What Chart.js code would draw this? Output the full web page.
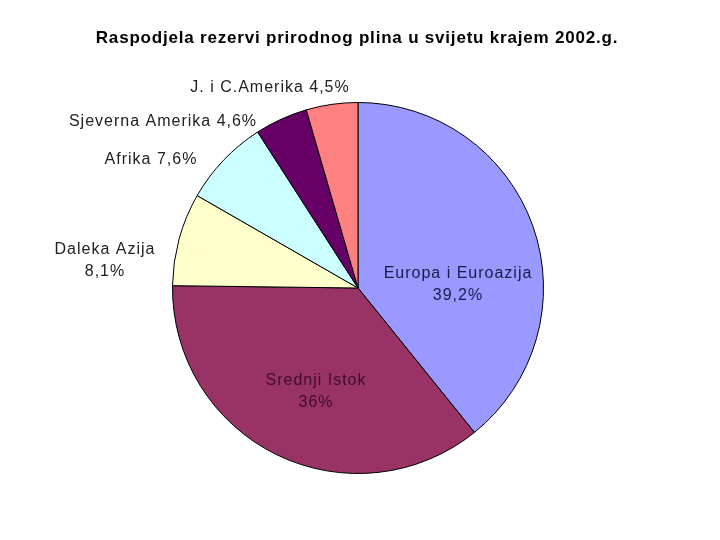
<!DOCTYPE html>
<html>
<head>
<meta charset="utf-8">
<script src="https://cdn.jsdelivr.net/npm/chart.js@4/dist/chart.umd.min.js"></script>
<style>
    body { margin: 0; background: #fff; }
    #wrap { width: 720px; height: 540px; }
</style>
</head>
<body>
<div id="wrap"><canvas id="pieChart" width="720" height="540"></canvas></div>
<script>
const chartTitle = 'Raspodjela rezervi prirodnog plina u svijetu krajem 2002.g.';
const regions = ['Europa i Euroazija', 'Srednji Istok', 'Daleka Azija', 'Afrika', 'Sjeverna Amerika', 'J. i C.Amerika'];
const shares = [39.2, 36, 8.1, 7.6, 4.6, 4.5];
const shareLabels = ['39,2%', '36%', '8,1%', '7,6%', '4,6%', '4,5%'];
const colors = ['#9999ff', '#993366', '#ffffcc', '#ccffff', '#660066', '#ff8080'];

// label layout: offset from pie centre, and whether the % goes on a second line
const labelPos = [
    { dx: 100, dy: -3, twoLines: true, color: '#1a1a4d' },
    { dx: -42, dy: 104, twoLines: true, color: '#3d0f26' },
    { dx: -253, dy: -27, twoLines: true, color: '#222' },
    { dx: -207, dy: -128, twoLines: false, color: '#222' },
    { dx: -195, dy: -166, twoLines: false, color: '#222' },
    { dx: -88, dy: -200, twoLines: false, color: '#222' }
];

const sliceLabels = {
    id: 'sliceLabels',
    afterDatasetsDraw(chart) {
        const ctx = chart.ctx;
        const arcs = chart.getDatasetMeta(0).data;
        ctx.save();
        ctx.textAlign = 'center';
        ctx.textBaseline = 'middle';

        // title
        ctx.font = 'bold 17px "Liberation Sans", Arial, sans-serif';
        ctx.letterSpacing = '0.8px';
        ctx.fillStyle = '#000';
        ctx.fillText(chartTitle, 357, 38);

        ctx.font = '16px "Liberation Sans", Arial, sans-serif';
        ctx.letterSpacing = '1px';
        arcs.forEach((arc, i) => {
            const p = labelPos[i];
            const x = arc.x + p.dx;
            const y = arc.y + p.dy;
            ctx.fillStyle = p.color;
            if (p.twoLines) {
                ctx.fillText(regions[i], x, y - 11);
                ctx.fillText(shareLabels[i], x, y + 11);
            } else {
                ctx.fillText(regions[i] + ' ' + shareLabels[i], x, y);
            }
        });
        ctx.restore();
    }
};

new Chart(document.getElementById('pieChart'), {
    type: 'pie',
    data: {
        labels: regions,
        datasets: [{
            data: shares,
            backgroundColor: colors,
            borderColor: '#000',
            borderWidth: 1
        }]
    },
    options: {
        responsive: false,
        animation: false,
        layout: {
            padding: { top: 102, bottom: 66, left: 172, right: 176 }
        },
        plugins: {
            legend: { display: false },
            tooltip: { enabled: false },
            title: { display: false }
        }
    },
    plugins: [sliceLabels]
});
</script>
</body>
</html>
